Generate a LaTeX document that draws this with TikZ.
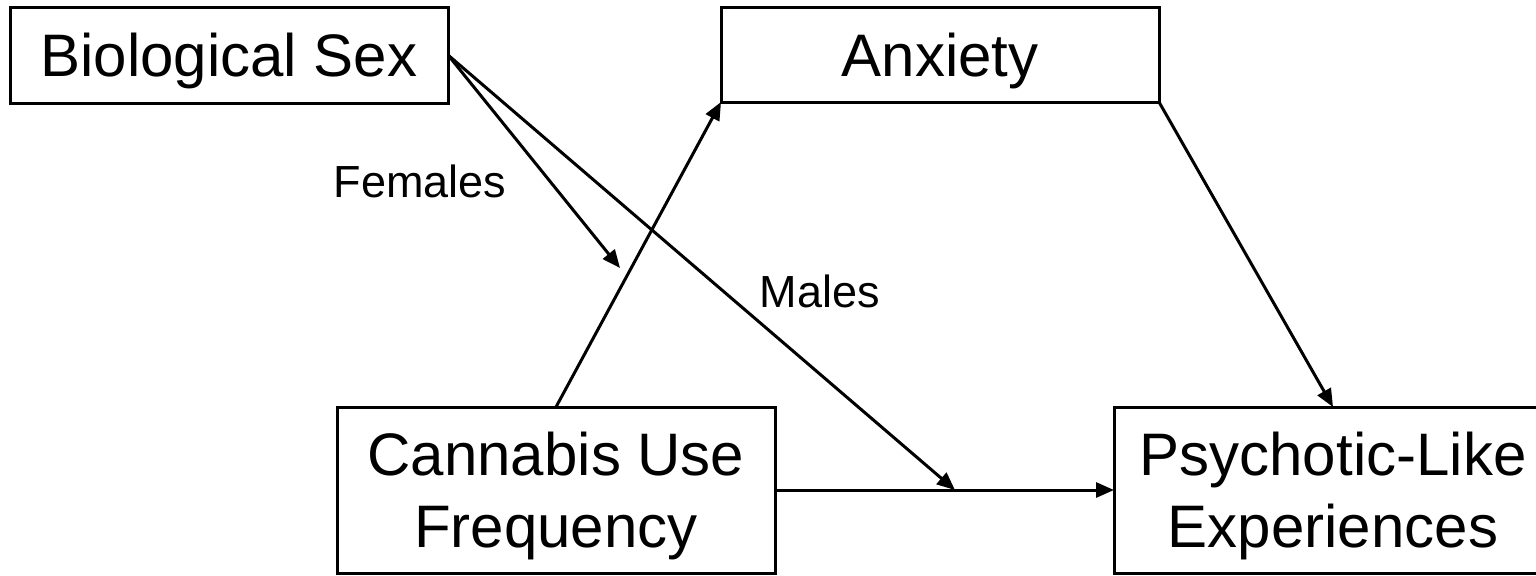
\documentclass[tikz,border=0pt]{standalone}
\usepackage{fontspec}
\setmainfont{Liberation Sans}
\usetikzlibrary{arrows.meta}
\begin{document}
\begin{tikzpicture}[x=0.5pt,y=-0.5pt,
  varbox/.style={draw, line width=1.5pt, inner sep=0pt, outer sep=0pt,
    minimum width=219pt, align=center, text depth=0pt,
    font=\fontsize{30}{36}\selectfont},
  lbl/.style={anchor=base, inner sep=0pt, font=\fontsize{22.5}{27}\selectfont},
  conn/.style={line width=1.5pt, -{Triangle[length=9pt,width=7.5pt]}}]
\useasboundingbox (0,0) rectangle (1536,575);
\node[varbox, minimum height=48pt] (bio) at (229,55) {Biological Sex};
\node[varbox, minimum height=47.5pt] (anx) at (940,54.5) {Anxiety};
\node[varbox, minimum height=83pt] (can) at (556,490) {Cannabis Use\\Frequency};
\node[varbox, minimum height=83pt] (ple) at (1333,490) {Psychotic-Like\\Experiences};
\coordinate (fem) at (620,268);
\coordinate (mal) at (955,490);
\draw[conn] (can.north) -- (anx.south west);
\draw[conn] (anx.south east) -- (ple.north);
\draw[conn] (can.east) -- (ple.west);
\draw[conn] (bio.east) -- (fem);
\draw[conn] (bio.east) -- (mal);
\node[lbl] (flab) at (420,197) {Females};
\node[lbl] (mlab) at (820,307) {Males};
\end{tikzpicture}
\end{document}
